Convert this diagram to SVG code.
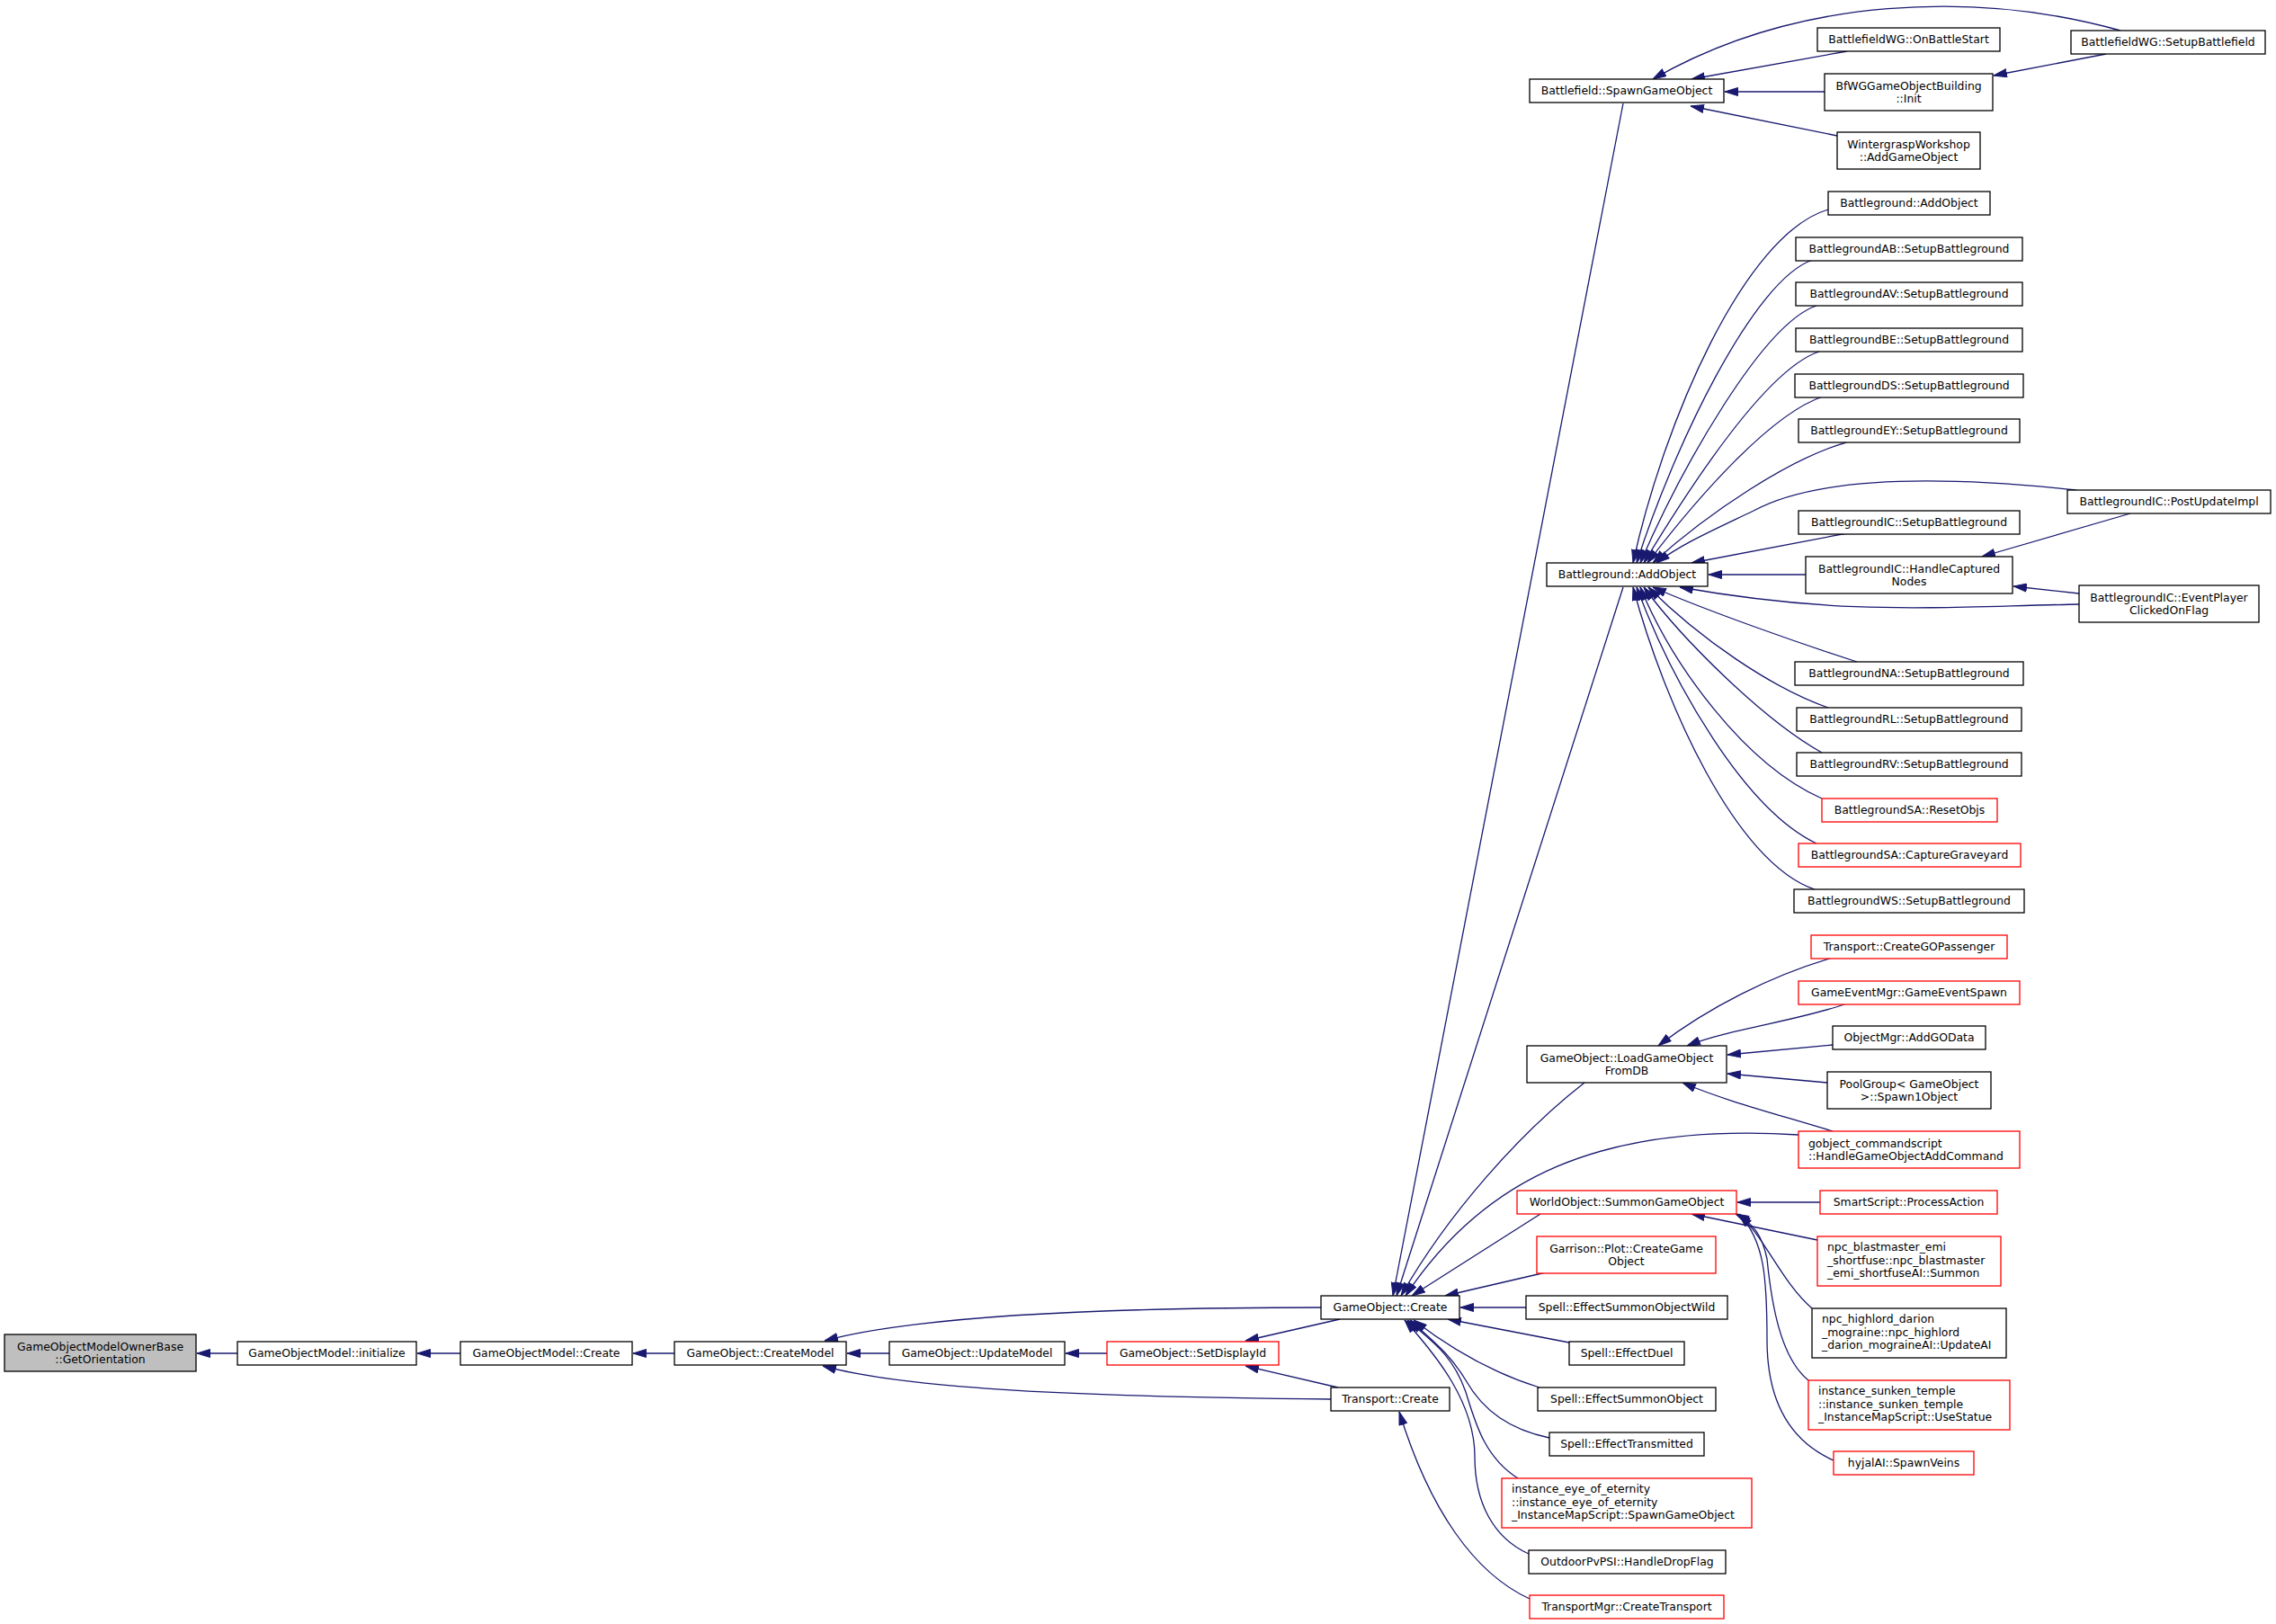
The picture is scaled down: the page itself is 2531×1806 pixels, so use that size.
<svg xmlns="http://www.w3.org/2000/svg" width="2531" height="1806" viewBox="0 0 2531 1806">
<defs>
<style>
.n rect{fill:#fff;stroke:#000;stroke-width:1.3}
.n.r rect{stroke:#ff0000}
.n.g rect{fill:#bfbfbf}
text{font-family:"DejaVu Sans","Liberation Sans",sans-serif;font-size:12.4px;fill:#000}
.c{text-anchor:middle}
#edges path{fill:none;stroke:#191970;stroke-width:1.3;marker-end:url(#a)}
</style>
<marker id="a" viewBox="0 0 15 10" refX="15" refY="5" markerWidth="15" markerHeight="10" markerUnits="userSpaceOnUse" orient="auto"><path d="M0.5,0.5 L15,5 L0.5,9.5 z" fill="#191970" stroke="#191970" stroke-width="1"/></marker>
</defs>
<rect x="0" y="0" width="2531" height="1806" fill="#fff"/>
<g id="edges">
<path d="M264,1505 L219,1505"/>
<path d="M512,1505 L464,1505"/>
<path d="M750,1505 L704,1505"/>
<path d="M989,1505 L942,1505"/>
<path d="M1231,1505 L1185,1505"/>
<path d="M1469,1454 C1200,1454 1010,1466 917,1491"/>
<path d="M1490,1467 L1385,1491"/>
<path d="M1488,1543 L1385,1519"/>
<path d="M1480,1556 C1200,1553 1010,1545 915,1519"/>
<path d="M1805,115 L1549,1441"/>
<path d="M1805,653 L1553,1441"/>
<path d="M1762,1204 C1690,1260 1610,1350 1558,1441"/>
<path d="M2000,1262 C1780,1248 1650,1310 1563,1441"/>
<path d="M1713,1350 L1570,1441"/>
<path d="M1719,1415 L1607,1441"/>
<path d="M1697,1454 L1624,1454"/>
<path d="M1745,1493 L1610,1467"/>
<path d="M1712,1543 C1670,1530 1620,1505 1572,1468"/>
<path d="M1723,1599 C1680,1590 1650,1570 1630,1535 C1612,1505 1592,1490 1568,1468"/>
<path d="M1688,1644 C1650,1620 1640,1580 1630,1548 C1615,1505 1590,1490 1565,1468"/>
<path d="M1700,1728 C1660,1710 1640,1670 1640,1620 C1640,1560 1598,1508 1562,1468"/>
<path d="M1701,1778 C1640,1750 1590,1680 1556,1570"/>
<path d="M2054,57 L1881,88"/>
<path d="M2358,34 C2200,-10 2000,-5 1838,88"/>
<path d="M2342,60 L2217,84"/>
<path d="M2029,102 L1918,102"/>
<path d="M2043,151 L1880,118"/>
<path d="M2033,233 C1940,260 1850,470 1816,626"/>
<path d="M2016,289 C1950,310 1860,500 1820,626"/>
<path d="M2020,340 C1960,360 1870,520 1824,626"/>
<path d="M2023,391 C1965,410 1880,540 1828,626"/>
<path d="M2027,441 C1970,460 1890,550 1832,626"/>
<path d="M2053,492 C1990,510 1900,570 1838,626"/>
<path d="M2309,545 C2150,528 2020,530 1950,568 C1900,592 1870,605 1842,626"/>
<path d="M2054,593 L1881,626"/>
<path d="M2008,639 L1900,639"/>
<path d="M2312,672 C2150,675 2050,685 1868,653"/>
<path d="M2369,571 L2204,619"/>
<path d="M2312,660 L2239,652"/>
<path d="M2065,736 C2000,715 1900,680 1838,653"/>
<path d="M2033,787 C1970,765 1890,710 1833,653"/>
<path d="M2026,837 C1960,800 1870,710 1828,653"/>
<path d="M2026,888 C1940,850 1860,740 1824,653"/>
<path d="M2020,938 C1940,900 1860,760 1820,653"/>
<path d="M2018,989 C1930,960 1850,780 1816,653"/>
<path d="M2038,1065 C1970,1085 1900,1120 1844,1163"/>
<path d="M2054,1116 C2000,1135 1920,1145 1876,1163"/>
<path d="M2038,1162 L1921,1173"/>
<path d="M2032,1204 L1921,1194"/>
<path d="M2038,1258 C1980,1240 1920,1225 1871,1204"/>
<path d="M2024,1337 L1932,1337"/>
<path d="M2021,1379 L1881,1350"/>
<path d="M2015,1455 C1980,1425 1960,1370 1932,1350"/>
<path d="M2011,1535 C1980,1510 1970,1450 1965,1400 C1960,1375 1950,1360 1930,1350"/>
<path d="M2039,1624 C1985,1600 1965,1550 1965,1490 C1965,1420 1962,1380 1934,1350"/>
</g>
<g id="n1" class="n g"><rect x="5" y="1484" width="213" height="41"/><text class="c" x="111.5" y="1501.5">GameObjectModelOwnerBase</text><text class="c" x="111.5" y="1516">::GetOrientation</text></g>
<g id="n2" class="n"><rect x="264" y="1492" width="199" height="26"/><text class="c" x="363.5" y="1509.4">GameObjectModel::initialize</text></g>
<g id="n3" class="n"><rect x="512" y="1492" width="191" height="26"/><text class="c" x="607.5" y="1509.4">GameObjectModel::Create</text></g>
<g id="n4" class="n"><rect x="750" y="1492" width="191" height="26"/><text class="c" x="845.5" y="1509.4">GameObject::CreateModel</text></g>
<g id="n5" class="n"><rect x="989" y="1492" width="195" height="26"/><text class="c" x="1086.5" y="1509.4">GameObject::UpdateModel</text></g>
<g id="n6" class="n r"><rect x="1231" y="1492" width="191" height="26"/><text class="c" x="1326.5" y="1509.4">GameObject::SetDisplayId</text></g>
<g id="n7" class="n"><rect x="1469" y="1441" width="154" height="26"/><text class="c" x="1546" y="1458.4">GameObject::Create</text></g>
<g id="n8" class="n"><rect x="1480" y="1543" width="132" height="26"/><text class="c" x="1546" y="1560.4">Transport::Create</text></g>
<g id="n9" class="n"><rect x="1701" y="88" width="216" height="26"/><text class="c" x="1809" y="105.4">Battlefield::SpawnGameObject</text></g>
<g id="n10" class="n"><rect x="1720" y="626" width="179" height="26"/><text class="c" x="1809.5" y="643.4">Battleground::AddObject</text></g>
<g id="n11" class="n"><rect x="1698" y="1163" width="222" height="41"/><text class="c" x="1809" y="1180.5">GameObject::LoadGameObject</text><text class="c" x="1809" y="1195">FromDB</text></g>
<g id="n12" class="n r"><rect x="1687" y="1324" width="244" height="26"/><text class="c" x="1809" y="1341.4">WorldObject::SummonGameObject</text></g>
<g id="n13" class="n r"><rect x="1709" y="1375" width="199" height="41"/><text class="c" x="1808.5" y="1392.5">Garrison::Plot::CreateGame</text><text class="c" x="1808.5" y="1407">Object</text></g>
<g id="n14" class="n"><rect x="1697" y="1441" width="224" height="26"/><text class="c" x="1809" y="1458.4">Spell::EffectSummonObjectWild</text></g>
<g id="n15" class="n"><rect x="1745" y="1492" width="128" height="26"/><text class="c" x="1809" y="1509.4">Spell::EffectDuel</text></g>
<g id="n16" class="n"><rect x="1710" y="1543" width="198" height="26"/><text class="c" x="1809" y="1560.4">Spell::EffectSummonObject</text></g>
<g id="n17" class="n"><rect x="1723" y="1593" width="172" height="26"/><text class="c" x="1809" y="1610.4">Spell::EffectTransmitted</text></g>
<g id="n18" class="n r"><rect x="1670" y="1644" width="278" height="55"/><text x="1681" y="1660">instance_eye_of_eternity</text><text x="1681" y="1674.5">::instance_eye_of_eternity</text><text x="1681" y="1689">_InstanceMapScript::SpawnGameObject</text></g>
<g id="n19" class="n"><rect x="1700" y="1724" width="219" height="26"/><text class="c" x="1809.5" y="1741.4">OutdoorPvPSI::HandleDropFlag</text></g>
<g id="n20" class="n r"><rect x="1701" y="1774" width="216" height="26"/><text class="c" x="1809" y="1791.4">TransportMgr::CreateTransport</text></g>
<g id="n21" class="n"><rect x="2021" y="31" width="203" height="26"/><text class="c" x="2122.5" y="48.4">BattlefieldWG::OnBattleStart</text></g>
<g id="n22" class="n"><rect x="2303" y="34" width="216" height="26"/><text class="c" x="2411" y="51.4">BattlefieldWG::SetupBattlefield</text></g>
<g id="n23" class="n"><rect x="2029" y="82" width="187" height="41"/><text class="c" x="2122.5" y="99.5">BfWGGameObjectBuilding</text><text class="c" x="2122.5" y="114">::Init</text></g>
<g id="n24" class="n"><rect x="2043" y="147" width="159" height="41"/><text class="c" x="2122.5" y="164.5">WintergraspWorkshop</text><text class="c" x="2122.5" y="179">::AddGameObject</text></g>
<g id="n25" class="n"><rect x="2033" y="213" width="180" height="26"/><text class="c" x="2123" y="230.4">Battleground::AddObject</text></g>
<g id="n26" class="n"><rect x="1997" y="264" width="252" height="26"/><text class="c" x="2123" y="281.4">BattlegroundAB::SetupBattleground</text></g>
<g id="n27" class="n"><rect x="1997" y="314" width="252" height="26"/><text class="c" x="2123" y="331.4">BattlegroundAV::SetupBattleground</text></g>
<g id="n28" class="n"><rect x="1997" y="365" width="252" height="26"/><text class="c" x="2123" y="382.4">BattlegroundBE::SetupBattleground</text></g>
<g id="n29" class="n"><rect x="1996" y="416" width="254" height="26"/><text class="c" x="2123" y="433.4">BattlegroundDS::SetupBattleground</text></g>
<g id="n30" class="n"><rect x="2000" y="466" width="246" height="26"/><text class="c" x="2123" y="483.4">BattlegroundEY::SetupBattleground</text></g>
<g id="n31" class="n"><rect x="2299" y="545" width="226" height="26"/><text class="c" x="2412" y="562.4">BattlegroundIC::PostUpdateImpl</text></g>
<g id="n32" class="n"><rect x="2000" y="568" width="246" height="26"/><text class="c" x="2123" y="585.4">BattlegroundIC::SetupBattleground</text></g>
<g id="n33" class="n"><rect x="2008" y="619" width="230" height="41"/><text class="c" x="2123" y="636.5">BattlegroundIC::HandleCaptured</text><text class="c" x="2123" y="651">Nodes</text></g>
<g id="n34" class="n"><rect x="2312" y="651" width="200" height="41"/><text class="c" x="2412" y="668.5">BattlegroundIC::EventPlayer</text><text class="c" x="2412" y="683">ClickedOnFlag</text></g>
<g id="n35" class="n"><rect x="1996" y="736" width="254" height="26"/><text class="c" x="2123" y="753.4">BattlegroundNA::SetupBattleground</text></g>
<g id="n36" class="n"><rect x="1998" y="787" width="250" height="26"/><text class="c" x="2123" y="804.4">BattlegroundRL::SetupBattleground</text></g>
<g id="n37" class="n"><rect x="1998" y="837" width="250" height="26"/><text class="c" x="2123" y="854.4">BattlegroundRV::SetupBattleground</text></g>
<g id="n38" class="n r"><rect x="2026" y="888" width="195" height="26"/><text class="c" x="2123.5" y="905.4">BattlegroundSA::ResetObjs</text></g>
<g id="n39" class="n r"><rect x="2000" y="938" width="247" height="26"/><text class="c" x="2123.5" y="955.4">BattlegroundSA::CaptureGraveyard</text></g>
<g id="n40" class="n"><rect x="1995" y="989" width="256" height="26"/><text class="c" x="2123" y="1006.4">BattlegroundWS::SetupBattleground</text></g>
<g id="n41" class="n r"><rect x="2014" y="1040" width="218" height="26"/><text class="c" x="2123" y="1057.4">Transport::CreateGOPassenger</text></g>
<g id="n42" class="n r"><rect x="2000" y="1091" width="246" height="26"/><text class="c" x="2123" y="1108.4">GameEventMgr::GameEventSpawn</text></g>
<g id="n43" class="n"><rect x="2038" y="1141" width="170" height="26"/><text class="c" x="2123" y="1158.4">ObjectMgr::AddGOData</text></g>
<g id="n44" class="n"><rect x="2032" y="1192" width="182" height="41"/><text class="c" x="2123" y="1209.5">PoolGroup&lt; GameObject</text><text class="c" x="2123" y="1224">&gt;::Spawn1Object</text></g>
<g id="n45" class="n r"><rect x="2000" y="1258" width="246" height="41"/><text x="2011" y="1275.5">gobject_commandscript</text><text x="2011" y="1290">::HandleGameObjectAddCommand</text></g>
<g id="n46" class="n r"><rect x="2024" y="1324" width="197" height="26"/><text class="c" x="2122.5" y="1341.4">SmartScript::ProcessAction</text></g>
<g id="n47" class="n r"><rect x="2021" y="1375" width="204" height="55"/><text x="2032" y="1391">npc_blastmaster_emi</text><text x="2032" y="1405.5">_shortfuse::npc_blastmaster</text><text x="2032" y="1420">_emi_shortfuseAI::Summon</text></g>
<g id="n48" class="n"><rect x="2015" y="1455" width="216" height="55"/><text x="2026" y="1471">npc_highlord_darion</text><text x="2026" y="1485.5">_mograine::npc_highlord</text><text x="2026" y="1500">_darion_mograineAI::UpdateAI</text></g>
<g id="n49" class="n r"><rect x="2011" y="1535" width="224" height="55"/><text x="2022" y="1551">instance_sunken_temple</text><text x="2022" y="1565.5">::instance_sunken_temple</text><text x="2022" y="1580">_InstanceMapScript::UseStatue</text></g>
<g id="n50" class="n r"><rect x="2039" y="1614" width="156" height="26"/><text class="c" x="2117" y="1631.4">hyjalAI::SpawnVeins</text></g>
</svg>
